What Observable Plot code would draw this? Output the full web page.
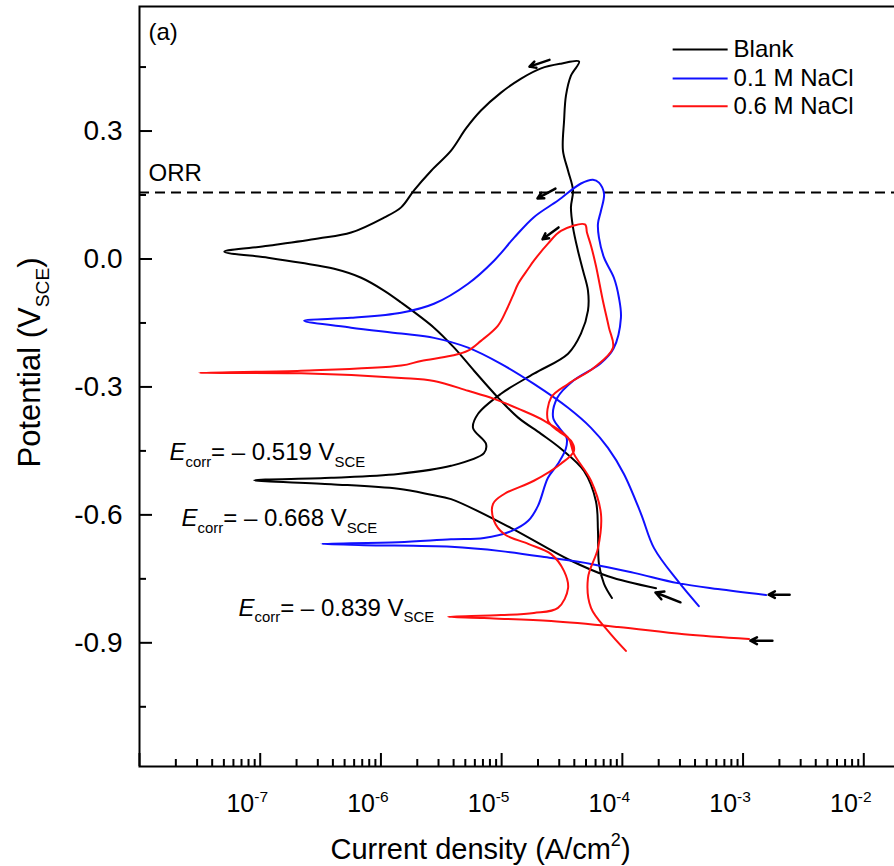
<!DOCTYPE html>
<html><head><meta charset="utf-8">
<script src="https://cdn.jsdelivr.net/npm/d3@7"></script>
<script src="https://cdn.jsdelivr.net/npm/@observablehq/plot@0.6"></script>
<style>
html,body{margin:0;padding:0;background:#fff;overflow:hidden}
#chart svg{overflow:hidden;display:block}
</style></head><body><div id="chart"></div>
<script>
// [current density (A/cm2), potential (V vs SCE)] in scan order
const blank = [
[1.90e-4,-0.772],[7.6e-5,-0.744],[3.55e-5,-0.704],[1.20e-5,-0.631],[3.81e-6,-0.563],[2.61e-6,-0.553],[1.39e-6,-0.539],[3.87e-7,-0.528],[8.9e-8,-0.519],
[3.87e-7,-0.513],[1.39e-6,-0.504],[3.81e-6,-0.485],[7.14e-6,-0.455],[7.43e-6,-0.434],[5.79e-6,-0.396],[6.38e-6,-0.363],[9.88e-6,-0.316],[1.85e-5,-0.269],[3.55e-5,-0.222],[4.54e-5,-0.175],[5.19e-5,-0.121],[5.19e-5,-0.074],[4.72e-5,-0.027],[4.28e-5,0.020],[3.90e-5,0.074],[3.75e-5,0.121],[3.90e-5,0.161],[3.55e-5,0.207],[3.22e-5,0.254],[3.29e-5,0.324],[3.41e-5,0.383],[3.75e-5,0.430],[4.38e-5,0.463],
[3.10e-5,0.458],[2.12e-5,0.447],[1.45e-5,0.423],[9.88e-6,0.390],[6.74e-6,0.348],[5.07e-6,0.306],[3.81e-6,0.254],[2.61e-6,0.207],[1.88e-6,0.161],[1.47e-6,0.121],[1.06e-6,0.097],[5.66e-7,0.062],[3.02e-7,0.048],[1.16e-7,0.031],[5.04e-8,0.017],
[1.16e-7,0.003],[2.18e-7,-0.009],[4.10e-7,-0.023],[6.86e-7,-0.044],[1.06e-6,-0.074],[1.47e-6,-0.102],[2.75e-6,-0.161],[4.04e-6,-0.208],[5.91e-6,-0.262],[9.33e-6,-0.325],[1.37e-5,-0.372],[2.12e-5,-0.410],[3.10e-5,-0.445],[4.81e-5,-0.497],[6.04e-5,-0.568],[6.28e-5,-0.638],[6.40e-5,-0.715],[7.05e-5,-0.762],[8.20e-5,-0.795]
];
const nacl01 = [
[1.55e-3,-0.788],[6.18e-4,-0.774],[2.88e-4,-0.760],[1.25e-4,-0.736],[5.50e-5,-0.715],[2.57e-5,-0.701],[9.88e-6,-0.685],[3.81e-6,-0.675],[7.26e-7,-0.671],[3.20e-7,-0.668],
[1.39e-6,-0.664],[3.81e-6,-0.657],[7.14e-6,-0.654],[1.20e-5,-0.638],[1.66e-5,-0.614],[2.00e-5,-0.579],[2.42e-5,-0.513],[2.93e-5,-0.480],[3.40e-5,-0.445],[3.45e-5,-0.419],[3.00e-5,-0.396],[2.67e-5,-0.372],[2.90e-5,-0.325],[3.94e-5,-0.285],[6.59e-5,-0.245],[8.45e-5,-0.210],[9.73e-5,-0.138],[9.37e-5,-0.091],[8.51e-5,-0.044],[7.05e-5,0.003],[6.40e-5,0.050],[6.28e-5,0.083],[6.65e-5,0.113],[7.05e-5,0.153],[6.40e-5,0.179],[5.71e-5,0.186],
[4.54e-5,0.177],[2.93e-5,0.137],[1.85e-5,0.098],[1.27e-5,0.050],[8.65e-6,-0.004],[5.27e-6,-0.058],[2.75e-6,-0.105],[1.47e-6,-0.126],[5.66e-7,-0.138],[2.31e-7,-0.145],
[5.66e-7,-0.161],[1.47e-6,-0.175],[2.75e-6,-0.185],[5.27e-6,-0.208],[9.88e-6,-0.246],[1.85e-5,-0.293],[3.55e-5,-0.349],[5.50e-5,-0.396],[7.60e-5,-0.443],[1.03e-4,-0.504],[1.43e-4,-0.598],[1.83e-4,-0.678],[2.88e-4,-0.755],[4.30e-4,-0.814]
];
const nacl06 = [
[1.12e-3,-0.891],[3.24e-4,-0.880],[9.20e-5,-0.863],[2.57e-5,-0.849],[7.14e-6,-0.842],[3.60e-6,-0.839],
[9.88e-6,-0.835],[1.85e-5,-0.830],[2.93e-5,-0.818],[3.55e-5,-0.772],[3.29e-5,-0.732],[2.57e-5,-0.692],[1.66e-5,-0.668],[1.05e-5,-0.645],[8.65e-6,-0.614],[8.49e-6,-0.574],[1.05e-5,-0.551],[1.85e-5,-0.520],[3.10e-5,-0.480],[3.97e-5,-0.450],[3.75e-5,-0.426],[2.93e-5,-0.403],[2.42e-5,-0.379],[2.57e-5,-0.325],[3.55e-5,-0.293],[5.82e-5,-0.255],[8.36e-5,-0.208],[7.74e-5,-0.161],[6.90e-5,-0.098],[6.04e-5,-0.016],[5.50e-5,0.031],[5.09e-5,0.062],[4.90e-5,0.081],
[3.10e-5,0.066],[2.42e-5,0.036],[1.85e-5,-0.004],[1.66e-5,-0.023],[1.37e-5,-0.058],[1.24e-5,-0.086],[1.09e-5,-0.121],[9.33e-6,-0.156],[6.74e-6,-0.192],[5.27e-6,-0.215],[3.81e-6,-0.227],[2.15e-6,-0.239],[1.47e-6,-0.250],[2.18e-7,-0.262],[3.13e-8,-0.267],
[2.18e-7,-0.268],[1.47e-6,-0.279],[2.75e-6,-0.286],[5.27e-6,-0.309],[8.65e-6,-0.328],[1.37e-5,-0.351],[2.24e-5,-0.379],[3.55e-5,-0.419],[3.97e-5,-0.457],[5.50e-5,-0.520],[6.65e-5,-0.598],[6.28e-5,-0.678],[5.19e-5,-0.748],[5.50e-5,-0.818],[7.60e-5,-0.872],[1.07e-4,-0.919]
];
const seriesNames = ["Blank", "0.1 M NaCl", "0.6 M NaCl"];
const seriesColors = ["#000000", "#1010ff", "#ff1010"];
const seriesData = [blank, nacl01, nacl06];

const yLabelTicks = [0.3, 0.0, -0.3, -0.6, -0.9];
const yMinorTicks = [0.45, 0.15, -0.15, -0.45, -0.75, -1.05];
const xLabelTicks = [1e-7, 1e-6, 1e-5, 1e-4, 1e-3, 1e-2];
const xMajorTicks = [1e-8, 1e-7, 1e-6, 1e-5, 1e-4, 1e-3, 1e-2];
const xMinorMultipliers = [2, 3, 4, 5, 6, 7, 8, 9];

const orrPotential = 0.156;
const orrLabel = {text: "ORR", x: 1.19e-8, y: 0.184};
const ecorrLabels = [
  {text: "*E*_{corr}= – 0.519 V_{SCE}", x: 1.77e-8, y: -0.472},
  {text: "*E*_{corr}= – 0.668 V_{SCE}", x: 2.23e-8, y: -0.627},
  {text: "*E*_{corr}= – 0.839 V_{SCE}", x: 6.61e-8, y: -0.836}
];
// scan-direction arrows: [x1, y1, x2, y2] (tail -> head)
const arrows = [
  [2.49e-5, 0.467, 1.70e-5, 0.451],
  [2.79e-5, 0.165, 1.98e-5, 0.142],
  [2.96e-5, 0.074, 2.18e-5, 0.046],
  [3.03e-4, -0.805, 1.88e-4, -0.782],
  [2.43e-3, -0.787, 1.63e-3, -0.787],
  [1.75e-3, -0.895, 1.15e-3, -0.895]
];
const legendX = [2.61e-4, 7.45e-4, 8.34e-4];
const legendY = [0.491, 0.423, 0.358];

const points = seriesData.flatMap((s, k) => s.map(([i, e], j) => ({series: seriesNames[k], i, e, j})));
const xMinorTicks = xMajorTicks.flatMap(d => xMinorMultipliers.map(m => d * m));
const legend = seriesNames.map((n, k) => ({name: n, color: seriesColors[k], y: legendY[k]}));

const FONT = "'Liberation Sans', Arial, Helvetica, sans-serif";

const plot = Plot.plot({
  width: 894,
  height: 866,
  marginLeft: 139,
  marginRight: -90,
  marginTop: 6,
  marginBottom: 100,
  style: {fontFamily: FONT, fontSize: "24px", color: "#000", background: "#fff"},
  x: {type: "log", domain: [1e-8, 1e-1]},
  y: {domain: [-1.19, 0.592]},
  color: {domain: seriesNames, range: seriesColors},
  marks: [
    Plot.ruleY([orrPotential], {stroke: "#000", strokeWidth: 2, strokeDasharray: "10,6"}),
    Plot.line(points, {x: "i", y: "e", z: "series", stroke: "series", strokeWidth: 2, curve: "catmull-rom"}),
    Plot.arrow(arrows, {x1: d => d[0], y1: d => d[1], x2: d => d[2], y2: d => d[3], stroke: "#000", strokeWidth: 2.5, headLength: 9, headAngle: 55}),
    // axes
    Plot.axisY({ticks: yLabelTicks, tickSize: -13, fill: "none", strokeWidth: 2, label: null}),
    Plot.axisY({ticks: yMinorTicks, tickSize: -7, fill: "none", strokeWidth: 2, label: null}),
    Plot.axisY({ticks: yLabelTicks, tickSize: 0, tickPadding: 17, fontSize: 28, tickFormat: d => d.toFixed(1), label: null}),
    Plot.axisX({ticks: xMajorTicks, tickSize: -13, fill: "none", strokeWidth: 2, label: null}),
    Plot.axisX({ticks: xMinorTicks, tickSize: -7, fill: "none", strokeWidth: 2, label: null}),
    Plot.axisX({ticks: xLabelTicks, tickSize: 0, tickPadding: 28, dx: -13, fontSize: 25, tickFormat: d => `10^{${Math.round(Math.log10(d))}}`, label: null}),
    Plot.frame({stroke: "#000", strokeWidth: 2}),
    // titles
    Plot.text(["Current density (A/cm^{2})"], {text: d => d, frameAnchor: "bottom-left", dx: 341, dy: 92, lineAnchor: "bottom", textAnchor: "middle", fontSize: 29}),
    Plot.text(["Potential (V_{SCE})"], {text: d => d, frameAnchor: "left", dx: -109, dy: -24, rotate: -90, textAnchor: "middle", fontSize: 31}),
    // annotations
    Plot.text(["(a)"], {text: d => d, frameAnchor: "top-left", dx: 9, dy: 16, lineAnchor: "top", textAnchor: "start", fontSize: 24}),
    Plot.text([orrLabel], {x: "x", y: "y", text: "text", textAnchor: "start", lineAnchor: "bottom", fontSize: 24}),
    Plot.text(ecorrLabels, {x: "x", y: "y", text: "text", textAnchor: "start", lineAnchor: "bottom", fontSize: 24}),
    // legend
    Plot.link(legend, {x1: () => legendX[0], x2: () => legendX[1], y1: "y", y2: "y", stroke: "color", strokeWidth: 2}),
    Plot.text(legend, {x: () => legendX[2], y: "y", text: "name", textAnchor: "start", fontSize: 24})
  ]
});
document.getElementById("chart").appendChild(plot);

// rich text: *italic*, _{sub}, ^{sup}
const NS = "http://www.w3.org/2000/svg";
d3.select(plot).selectAll("text").each(function () {
  const el = this;
  const s = el.textContent;
  if (!/[_^]\{|\*/.test(s)) return;
  const fs = parseFloat(getComputedStyle(el).fontSize) || 24;
  el.textContent = "";
  const parts = s.split(/(\*[^*]+\*|_\{[^}]*\}|\^\{[^}]*\})/g).filter(p => p !== "");
  let shift = 0;
  for (const p of parts) {
    const t = document.createElementNS(NS, "tspan");
    let txt = p, target = 0, small = false, ital = false;
    if (p.startsWith("*")) { txt = p.slice(1, -1); ital = true; }
    else if (p.startsWith("_{")) { txt = p.slice(2, -1); target = 0.28 * fs; small = true; }
    else if (p.startsWith("^{")) { txt = p.slice(2, -1); target = -0.42 * fs; small = true; }
    const dy = target - shift;
    if (dy !== 0) t.setAttribute("dy", dy.toFixed(2));
    shift = target;
    if (small) t.setAttribute("font-size", (0.62 * fs).toFixed(1) + "px");
    if (ital) t.setAttribute("font-style", "italic");
    t.textContent = txt;
    el.appendChild(t);
  }
});
</script></body></html>
